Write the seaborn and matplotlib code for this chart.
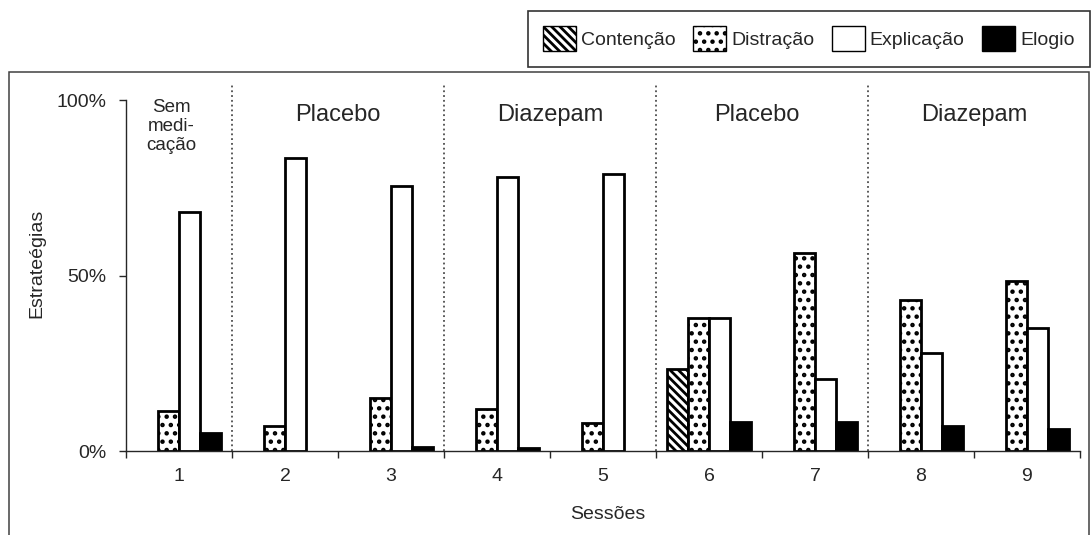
import numpy as np
import pandas as pd
import matplotlib
matplotlib.use("Agg")
import matplotlib.pyplot as plt
from matplotlib.patches import Patch, Rectangle
import seaborn as sns

# valores (%)
sessoes = ['1', '2', '3', '4', '5', '6', '7', '8', '9']
contencao = [0, 0, 0, 0, 0, 23.5, 0, 0, 0]
distracao = [11.5, 7, 15, 12, 8, 38, 56.5, 43, 48.5]
explicacao = [68, 83.5, 75.5, 78, 79, 38, 20.5, 28, 35]
elogio = [5, 0, 1, 0.8, 0, 8.3, 8.3, 7.2, 6.2]
estrategias = ['Contenção', 'Distração', 'Explicação', 'Elogio']
fases = ['Sem\nmedi-\ncação', 'Placebo', 'Diazepam', 'Placebo', 'Diazepam']
fases_x = [-0.07, 1.5, 3.5, 5.45, 7.5]
separadores = [0.5, 2.5, 4.5, 6.5]

df = pd.DataFrame({
    'Sessões': sessoes * 4,
    'valor': contencao + distracao + explicacao + elogio,
    'Estratégia': [e for e in estrategias for _ in sessoes],
})

sns.set_style('ticks')
plt.rcParams['font.family'] = ['Liberation Sans', 'DejaVu Sans']
plt.rcParams['hatch.linewidth'] = 2

fig = plt.figure(figsize=(10.91, 5.35), dpi=100)
ax = fig.add_axes([126 / 1091, 84 / 535, 954 / 1091, 368 / 535])

cores = {'Contenção': 'white', 'Distração': 'white', 'Explicação': 'white', 'Elogio': 'black'}
hatches = {'Contenção': '\\\\\\\\', 'Distração': '..', 'Explicação': '', 'Elogio': ''}

sns.barplot(data=df, x='Sessões', y='valor', hue='Estratégia', hue_order=estrategias,
            palette=cores, width=0.8, edgecolor='black', linewidth=2,
            saturation=1, legend=False, ax=ax)

for cont, nome in zip(ax.containers, estrategias):
    for bar in cont:
        bar.set_hatch(hatches[nome])
        if bar.get_height() == 0:
            bar.set_visible(False)

ax.set_xlim(-0.5, 8.5)
ax.set_ylim(0, 104.9)
ax.set_yticks([0, 50, 100])
ax.set_yticklabels(['0%', '50%', '100%'])
ax.set_xticks(np.arange(-0.5, 9, 1), minor=True)
ax.tick_params(axis='x', which='major', length=0, pad=12, labelsize=14)
ax.tick_params(axis='x', which='minor', length=5, direction='out', width=1)
ax.tick_params(axis='y', length=5, direction='out', width=1, pad=9, labelsize=14)
sns.despine(ax=ax)
ax.spines['left'].set_bounds(0, 100)
for s in ['left', 'bottom']:
    ax.spines[s].set_color('0.15')
    ax.spines[s].set_linewidth(1)

ax.set_xlabel('Sessões', fontsize=14)
ax.set_ylabel('Estrateégias', fontsize=14)
ax.xaxis.set_label_coords(0.505, -0.15)
ax.yaxis.set_label_coords(-0.084, 0.51)

for x in separadores:
    ax.axvline(x, color='0.3', linestyle=':', linewidth=1.3, zorder=0)

for x, t in zip(fases_x, fases):
    if '\n' in t:
        ax.text(x, 92.4, t, ha='center', va='center', fontsize=13.5, linespacing=1.15)
    else:
        ax.text(x, 95.8, t, ha='center', va='center', fontsize=17)

# moldura do grafico
fig.add_artist(Rectangle((9 / 1091, -0.1), 1080 / 1091, 0.1 + 463 / 535,
                         transform=fig.transFigure, fill=False, ec='0.25', lw=1.1))

handles = [Patch(facecolor=cores[e], edgecolor='black', hatch=hatches[e], lw=1) for e in estrategias]
leg = fig.legend(handles, estrategias, loc='upper right', bbox_to_anchor=(1090 / 1091, 1 - 10.5 / 535),
                 ncol=4, fontsize=14, frameon=True, fancybox=False, handlelength=1.7,
                 handleheight=1.6, handletextpad=0.25, columnspacing=0.9, borderpad=0.8,
                 borderaxespad=0)
leg.get_frame().set_edgecolor('black')
leg.get_frame().set_linewidth(1.2)
leg.set_zorder(10)

fig.savefig('out.png', dpi=100)
